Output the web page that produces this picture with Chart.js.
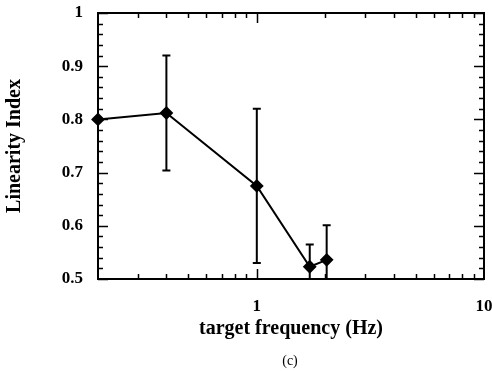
<!DOCTYPE html>
<html><head><meta charset="utf-8">
<script src="https://cdn.jsdelivr.net/npm/chart.js@4/dist/chart.umd.min.js"></script>
<style>html,body{margin:0;padding:0;background:#fff}#wrap{width:492px;height:372px}</style>
</head><body><div id="wrap"><canvas id="c" width="492" height="372"></canvas></div>
<script>
// Data
const freq = [0.2, 0.4, 1.0, 1.71, 2.03];
const linearity = [0.800, 0.812, 0.675, 0.523, 0.536];
const errAmount = [0, 0.108, 0.145, 0.042, 0.065];
const xTickLabels = [1, 10];
const yTickLabels = [0.5, 0.6, 0.7, 0.8, 0.9, 1];
const xMinorTicks = [0.3,0.4,0.5,0.6,0.7,0.8,0.9,2,3,4,5,6,7,8,9];
const xMajorTicks = [1];
const yMinorTicks = [];
for (let i = 1; i < 25; i++) yMinorTicks.push(+(0.5 + i*0.02).toFixed(2));
const FONT = "'Liberation Serif', 'Times New Roman', serif";

const framePlugin = {
  id: 'frame',
  beforeDatasetsDraw(chart) {
    const {ctx, chartArea: a, scales: {x, y}} = chart;
    ctx.save();
    ctx.strokeStyle = '#000';
    ctx.lineWidth = 2;
    ctx.beginPath();
    ctx.rect(a.left, a.top - 20, a.right - a.left, a.bottom - a.top + 20);
    ctx.clip();
    freq.forEach((f, i) => {
      const e = errAmount[i];
      if (!e) return;
      const px = x.getPixelForValue(f);
      const top = y.getPixelForValue(linearity[i] + e);
      const bot = y.getPixelForValue(linearity[i] - e);
      ctx.beginPath();
      ctx.moveTo(px, top); ctx.lineTo(px, bot);
      ctx.moveTo(px - 4, top); ctx.lineTo(px + 4, top);
      ctx.moveTo(px - 4, bot); ctx.lineTo(px + 4, bot);
      ctx.stroke();
    });
    ctx.restore();
  },
  afterDraw(chart) {
    const {ctx, chartArea: a, scales: {x, y}} = chart;
    ctx.save();
    ctx.strokeStyle = '#000';
    ctx.lineWidth = 2;
    ctx.strokeRect(a.left, a.top, a.right - a.left, a.bottom - a.top);
    ctx.lineWidth = 1.5;
    ctx.beginPath();
    const tx = (v, len) => {
      const px = Math.round(x.getPixelForValue(v)) + 0.5;
      ctx.moveTo(px, a.bottom); ctx.lineTo(px, a.bottom - len);
      ctx.moveTo(px, a.top); ctx.lineTo(px, a.top + len);
    };
    const ty = (v, len) => {
      const py = Math.round(y.getPixelForValue(v)) + 0.5;
      ctx.moveTo(a.left, py); ctx.lineTo(a.left + len, py);
      ctx.moveTo(a.right, py); ctx.lineTo(a.right - len, py);
    };
    xMinorTicks.forEach(v => tx(v, 5));
    xMajorTicks.forEach(v => tx(v, 10));
    yMinorTicks.forEach(v => { if (Math.abs(v*10 - Math.round(v*10)) > 1e-6) ty(v, 5); });
    yTickLabels.forEach(v => ty(v, 10));
    ctx.stroke();
    ctx.fillStyle = '#000';
    ctx.font = "14px " + FONT;
    ctx.textAlign = 'center';
    ctx.textBaseline = 'middle';
    ctx.fillText('(c)', 290, 361);
    ctx.restore();
  }
};

new Chart(document.getElementById('c'), {
  type: 'scatter',
  data: {
    datasets: [{
      data: freq.map((f, i) => ({x: f, y: linearity[i]})),
      showLine: true,
      borderColor: '#000',
      borderWidth: 2,
      backgroundColor: '#000',
      pointStyle: 'rectRot',
      pointRadius: 5.5,
      pointHoverRadius: 5.5,
      clip: false
    }]
  },
  options: {
    responsive: false,
    animation: false,
    events: [],
    layout: {padding: {left: 0, right: 8, top: 13, bottom: 0}},
    plugins: {legend: {display: false}, tooltip: {enabled: false}},
    scales: {
      x: {
        type: 'logarithmic',
        min: 0.2, max: 10,
        grid: {display: false, drawTicks: false},
        border: {display: false},
        afterBuildTicks: s => { s.ticks = xTickLabels.map(v => ({value: v})); },
        afterFit: s => { s.height = 93; s.paddingLeft = 0; s.paddingRight = 0; },
        ticks: {
          color: '#000', padding: 17, maxRotation: 0, autoSkip: false,
          font: {family: FONT, size: 17, weight: 'bold'},
          callback: v => String(v)
        },
        title: {
          display: true, text: 'target frequency (Hz)', color: '#000',
          font: {family: FONT, size: 20, weight: 'bold'},
          padding: {top: 0, bottom: 31}
        }
      },
      y: {
        min: 0.5, max: 1,
        grid: {display: false, drawTicks: false},
        border: {display: false},
        afterBuildTicks: s => { s.ticks = yTickLabels.map(v => ({value: v})); },
        afterFit: s => { s.width = 98; s.paddingTop = 0; s.paddingBottom = 0; },
        ticks: {
          color: '#000', padding: 15, autoSkip: false,
          font: {family: FONT, size: 17, weight: 'bold'},
          callback: v => String(+(+v).toFixed(1))
        },
        title: {
          display: true, text: 'Linearity Index', color: '#000',
          font: {family: FONT, size: 20, weight: 'bold'},
          padding: {top: 3, bottom: 0}
        }
      }
    }
  },
  plugins: [framePlugin]
});
</script>
</body></html>
